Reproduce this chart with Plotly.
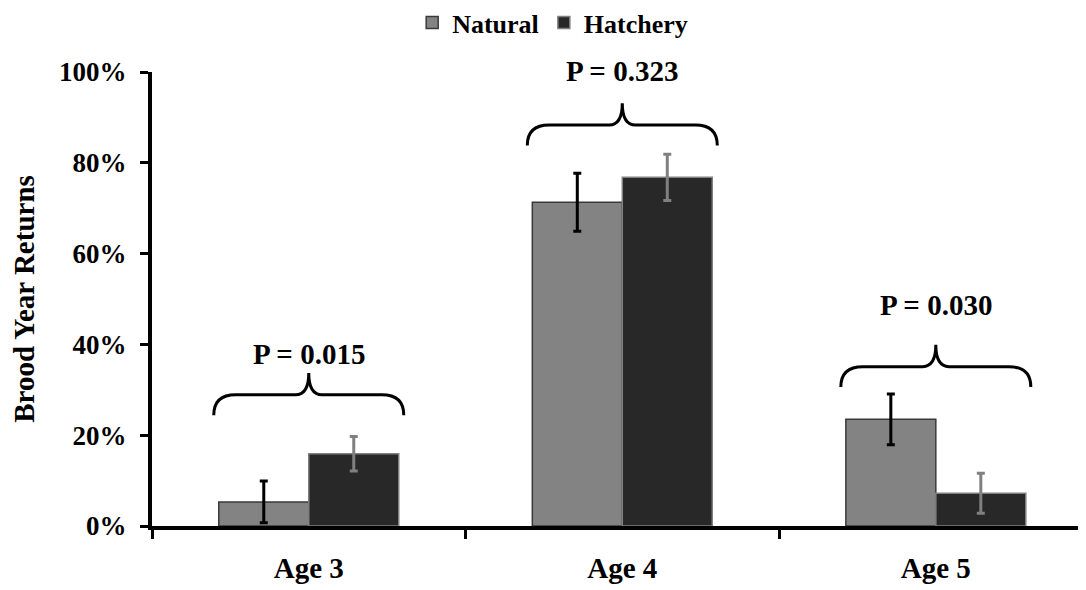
import plotly.graph_objects as go

categories = ["Age 3", "Age 4", "Age 5"]
natural = [0.053, 0.713, 0.235]
natural_err = [0.046, 0.064, 0.056]
hatchery = [0.159, 0.768, 0.072]
hatchery_err = [0.038, 0.051, 0.044]
p_labels = ["P = 0.015", "P = 0.323", "P = 0.030"]
brace_levels = [0.289, 0.883, 0.351]
p_label_levels = [0.379, 1.002, 0.487]

FONT = "Liberation Serif"
xpos = list(range(len(categories)))

fig = go.Figure()
fig.add_trace(go.Bar(
    x=xpos, y=natural, name="<b>Natural</b>",
    marker=dict(color="#838383", line=dict(color="#3a3a3a", width=1.5)),
    error_y=dict(type="data", array=natural_err, visible=True,
                 color="#000000", thickness=3, width=4),
))
fig.add_trace(go.Bar(
    x=xpos, y=hatchery, name="<b>Hatchery</b>",
    marker=dict(color="#282828", line=dict(color="#808080", width=1.5)),
    error_y=dict(type="data", array=hatchery_err, visible=True,
                 color="#808080", thickness=3, width=4),
))

# curly braces + p-value labels (y axis range is [0, 1], so paper y == data y)
hw, corner, mid, drop, rise = 0.303, 0.07, 0.042, 0.045, 0.048
for i, (lvl, lab, ly) in enumerate(zip(brace_levels, p_labels, p_label_levels)):
    cx = xpos[i]
    y0, y1, y2 = lvl - drop, lvl, lvl + rise
    path = (f"M {cx-hw},{y0} Q {cx-hw},{y1} {cx-hw+corner},{y1} "
            f"L {cx-mid},{y1} Q {cx},{y1} {cx},{y2} "
            f"Q {cx},{y1} {cx+mid},{y1} "
            f"L {cx+hw-corner},{y1} Q {cx+hw},{y1} {cx+hw},{y0}")
    fig.add_shape(type="path", path=path, xref="x", yref="y",
                  line=dict(color="#000000", width=3))
    fig.add_annotation(x=cx, y=ly, xref="x", yref="paper", text=f"<b>{lab}</b>",
                       showarrow=False, font=dict(family=FONT, size=29, color="#000000"),
                       yanchor="middle")

fig.update_layout(
    width=1078, height=582,
    margin=dict(l=144, r=0, t=64, b=64, autoexpand=False),
    paper_bgcolor="white", plot_bgcolor="white",
    barmode="group", bargap=0.426, bargroupgap=0,
    font=dict(family=FONT, color="#000000"),
    legend=dict(orientation="h", x=0.429, xanchor="center", y=1.109, yanchor="middle",
                font=dict(family=FONT, size=26, color="#000000"),
                itemwidth=30, tracegroupgap=0),
    showlegend=True,
)
fig.update_xaxes(
    range=[-0.5, 2.479], tickvals=xpos, ticktext=[f"<b>{c}</b>" for c in categories],
    ticks="", showline=True, linecolor="#000000", linewidth=4,
    tickfont=dict(family=FONT, size=29, color="#000000"),
    showgrid=False, zeroline=False, automargin=False, ticklabelstandoff=13,
    minor=dict(tickvals=[-0.5, 0.5, 1.5], ticks="outside", ticklen=9,
               tickwidth=3, tickcolor="#000000", showgrid=False),
)
fig.update_yaxes(
    range=[0, 1], tickvals=[0, 0.2, 0.4, 0.6, 0.8, 1.0],
    ticktext=["<b>0%</b>", "<b>20%</b>", "<b>40%</b>", "<b>60%</b>", "<b>80%</b>", "<b>100%</b>"],
    ticks="outside", ticklen=8, tickwidth=3, tickcolor="#000000",
    showline=True, linecolor="#000000", linewidth=4,
    tickfont=dict(family=FONT, size=27, color="#000000"),
    showgrid=False, zeroline=False, automargin=False, ticklabelstandoff=8,
    title=dict(text="<b>Brood Year Returns</b>", font=dict(family=FONT, size=29, color="#000000"),
               standoff=20),
)
fig.write_html("out.html")
